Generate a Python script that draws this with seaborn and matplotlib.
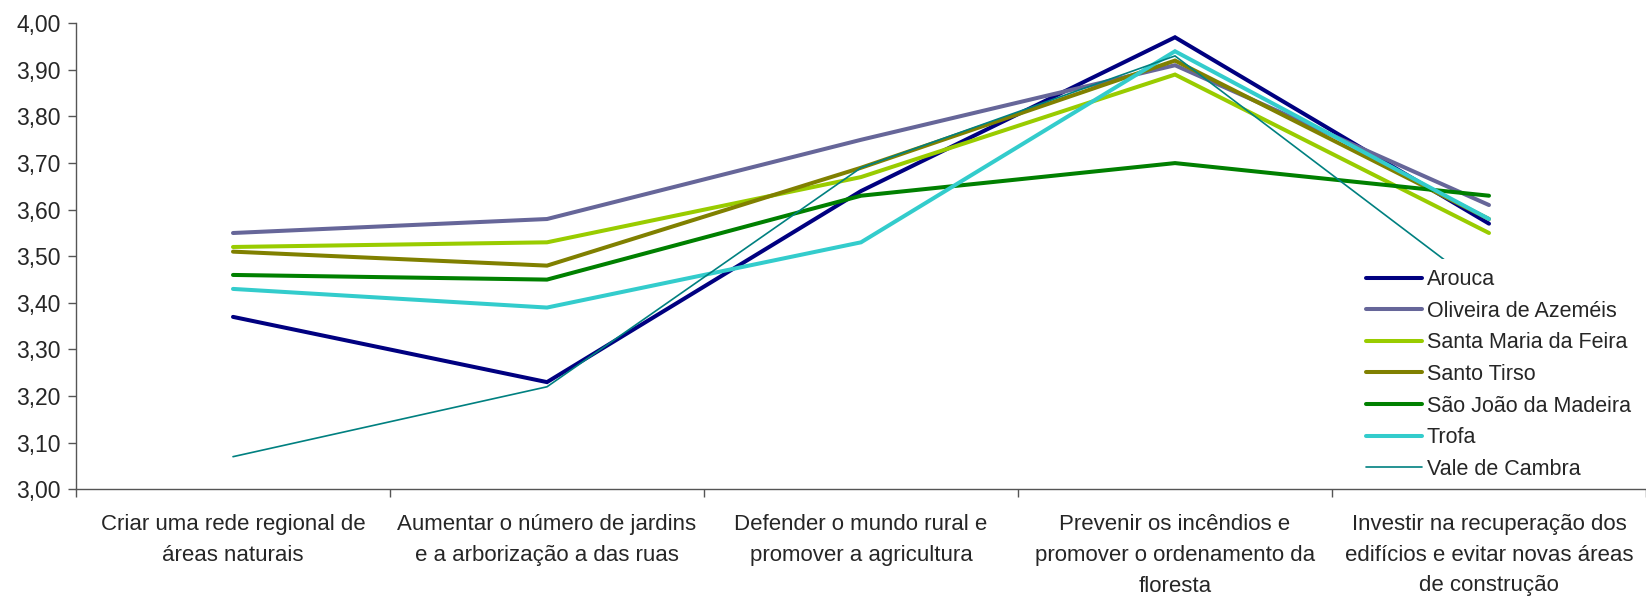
import numpy as np
import pandas as pd
import matplotlib
matplotlib.use("Agg")
import matplotlib.pyplot as plt
import seaborn as sns
from matplotlib.ticker import FuncFormatter, FixedLocator

categories = [
    "Criar uma rede regional de\náreas naturais",
    "Aumentar o número de jardins\ne a arborização a das ruas",
    "Defender o mundo rural e\npromover a agricultura",
    "Prevenir os incêndios e\npromover o ordenamento da\nfloresta",
    "Investir na recuperação dos\nedifícios e evitar novas áreas\nde construção",
]

arouca = [3.37, 3.23, 3.64, 3.97, 3.57]
oliveira = [3.55, 3.58, 3.75, 3.91, 3.61]
santa_maria = [3.52, 3.53, 3.67, 3.89, 3.55]
santo_tirso = [3.51, 3.48, 3.69, 3.92, 3.58]
sao_joao = [3.46, 3.45, 3.63, 3.70, 3.63]
trofa = [3.43, 3.39, 3.53, 3.94, 3.58]
vale_cambra = [3.07, 3.22, 3.69, 3.93, 3.42]

series_names = ["Arouca", "Oliveira de Azeméis", "Santa Maria da Feira",
                "Santo Tirso", "São João da Madeira", "Trofa", "Vale de Cambra"]
series_values = [arouca, oliveira, santa_maria, santo_tirso, sao_joao, trofa, vale_cambra]
colors = ["#000080", "#666699", "#99CC00", "#808000", "#008000", "#33CCCC", "#008080"]
widths = [2.9, 2.9, 2.9, 2.9, 2.9, 2.9, 1.2]

sns.set_style("white")
plt.rcParams["font.family"] = ["Liberation Sans", "DejaVu Sans"]

fig = plt.figure(figsize=(16.46, 5.96), dpi=100)
ax = fig.add_axes([76 / 1646, 1 - 489.3 / 596, 1 - 76 / 1646, (489.3 - 23.3) / 596])

pos = np.arange(len(categories))
for name, vals, c, lw in zip(series_names, series_values, colors, widths):
    df = pd.DataFrame({"x": pos, "y": vals})
    sns.lineplot(data=df, x="x", y="y", color=c, linewidth=lw, label=name, ax=ax,
                 solid_joinstyle="miter")

ax.set_xlim(-0.5, len(categories) - 0.5)
ax.set_ylim(3.0, 4.0)
ax.set_yticks(np.arange(3.0, 4.001, 0.1))
ax.yaxis.set_major_formatter(FuncFormatter(lambda v, p: f"{v:.2f}".replace(".", ",")))

# category boundaries carry the tick marks, labels sit at the centres
ax.xaxis.set_major_locator(FixedLocator(np.arange(-0.5, len(categories), 1.0)))
ax.xaxis.set_minor_locator(FixedLocator(pos))
ax.set_xticklabels([""] * (len(categories) + 1))
ax.set_xticklabels(categories, minor=True, fontsize=16, linespacing=1.6)
ax.tick_params(axis="x", which="major", length=6, width=1, color="#555555", direction="out", bottom=True)
ax.tick_params(axis="x", which="minor", length=0, pad=18)
ax.tick_params(axis="y", length=6, width=1, color="#555555", direction="out", left=True,
               labelsize=16.5, pad=5)

ax.set_xlabel("")
ax.set_ylabel("")
for s in ["top", "right"]:
    ax.spines[s].set_visible(False)
for s in ["left", "bottom"]:
    ax.spines[s].set_color("#555555")
    ax.spines[s].set_linewidth(1)

leg = ax.legend(loc="upper left", bbox_to_anchor=(1356 / 1646, 1 - 259 / 596),
                bbox_transform=fig.transFigure, frameon=True, fontsize=15.5,
                handlelength=2.6, handletextpad=0.2, labelspacing=0.49,
                borderpad=0.48, borderaxespad=0)
leg.get_frame().set_facecolor("white")
leg.get_frame().set_edgecolor("none")
leg.get_frame().set_alpha(1)
# legend box hides the lines behind it but stays under the axis spine
leg.set_zorder(2.2)

fig.savefig("out.png", dpi=100)
